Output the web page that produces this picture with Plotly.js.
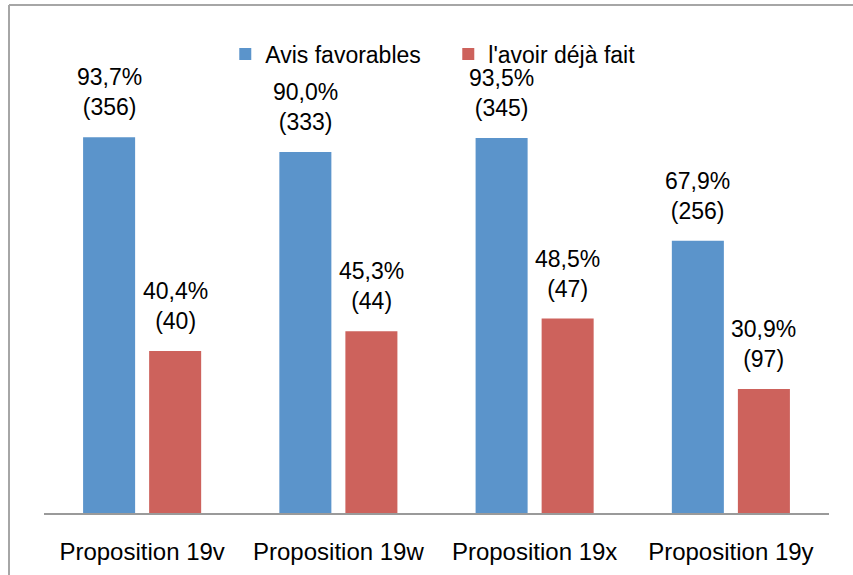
<!DOCTYPE html>
<html>
<head>
<meta charset="utf-8">
<script src="https://cdn.plot.ly/plotly-3.0.1.min.js"></script>
<style>
html,body{margin:0;padding:0;background:#fff;}
#chart{width:853px;height:575px;}
</style>
</head>
<body>
<div id="chart"></div>
<script>
const categories = ["Proposition 19v", "Proposition 19w", "Proposition 19x", "Proposition 19y"];
const seriesNames = ["Avis favorables", "l'avoir déjà fait"];
const favorablesPct = [93.7, 90.0, 93.5, 67.9];
const favorablesCount = [356, 333, 345, 256];
const dejaFaitPct = [40.4, 45.3, 48.5, 30.9];
const dejaFaitCount = [40, 44, 47, 97];

const FONT = "Liberation Sans, Arial, sans-serif";
const W = 853, H = 575;
const M = {l: 44, r: 24, t: 112, b: 62};
const plotW = W - M.l - M.r, plotH = H - M.t - M.b;
const colors = ["#5B94CB", "#CD625C"];

function fmt(v){ return v.toFixed(1).replace('.', ',') + '%'; }

const traces = [
  {type: 'bar', name: seriesNames[0], x: categories, y: favorablesPct, marker: {color: colors[0]}, hoverinfo: 'none'},
  {type: 'bar', name: seriesNames[1], x: categories, y: dejaFaitPct, marker: {color: colors[1]}, hoverinfo: 'none'}
];

const annotations = [];
const series = [[favorablesPct, favorablesCount, -33], [dejaFaitPct, dejaFaitCount, 33]];
series.forEach(([pct, cnt, shift]) => {
  categories.forEach((c, i) => {
    annotations.push({
      x: c, y: pct[i], xref: 'x', yref: 'y',
      text: fmt(pct[i]) + '<br>(' + cnt[i] + ')',
      showarrow: false, xanchor: 'center', yanchor: 'bottom',
      xshift: shift, yshift: 15,
      font: {family: FONT, size: 23, color: '#000'}
    });
  });
});

const px2x = px => (px - M.l) / plotW;
const py2y = py => 1 - (py - M.t) / plotH;

const layout = {
  width: W, height: H,
  margin: M,
  paper_bgcolor: '#fff', plot_bgcolor: '#fff',
  barmode: 'group', bargap: 0.327, bargroupgap: 0.212,
  showlegend: true,
  legend: {orientation: 'h', x: 0.515, xanchor: 'center', y: py2y(54), yanchor: 'middle',
           font: {family: FONT, size: 23, color: '#000'}, itemwidth: 30, traceorder: 'normal',
           entrywidth: 178, entrywidthmode: 'pixels'},
  xaxis: {showline: true, linecolor: '#9a9a9a', linewidth: 2, ticks: '', showgrid: false,
          tickfont: {family: FONT, size: 24, color: '#000'}, ticklabelstandoff: 16},
  yaxis: {range: [0, 100], visible: false, showgrid: false, zeroline: false},
  annotations: annotations,
  shapes: [
    {type: 'line', xref: 'paper', yref: 'paper', x0: px2x(9), x1: px2x(853), y0: py2y(5), y1: py2y(5), line: {color: '#a6a6a6', width: 2}},
    {type: 'line', xref: 'paper', yref: 'paper', x0: px2x(9), x1: px2x(9), y0: py2y(5), y1: py2y(575), line: {color: '#a6a6a6', width: 2}}
  ]
};

Plotly.newPlot('chart', traces, layout, {staticPlot: true, displayModeBar: false});
</script>
</body>
</html>
